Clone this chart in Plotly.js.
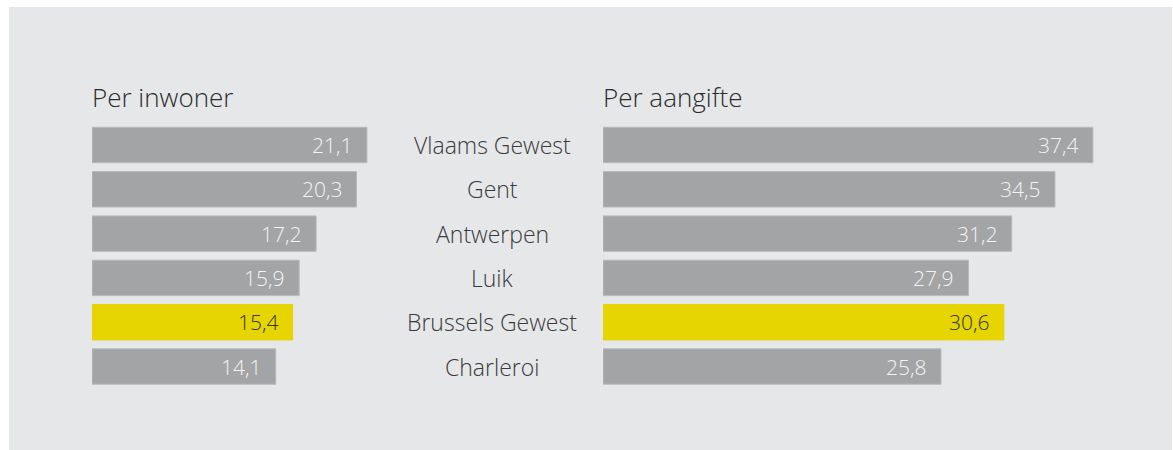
<!DOCTYPE html>
<html lang="nl">
<head>
    <meta charset="UTF-8">
    <title>Per inwoner / Per aangifte</title>
    <script src="https://cdn.plot.ly/plotly-3.0.1.min.js"></script>
    <style>
        body { margin: 0; padding: 0; background: #ffffff; }
        #chart { width: 1173px; height: 450px; }
    </style>
</head>
<body>
    <div id="chart"></div>
    <script>
        // Data
        const regions = ['Vlaams Gewest', 'Gent', 'Antwerpen', 'Luik', 'Brussels Gewest', 'Charleroi'];
        const perInwoner = [21.1, 20.3, 17.2, 15.9, 15.4, 14.1];
        const perAangifte = [37.4, 34.5, 31.2, 27.9, 30.6, 25.8];
        const highlight = 'Brussels Gewest';

        const W = 1173, H = 450;
        const grey = '#a3a4a6', yellow = '#e6d500';
        const fontFam = '"Open Sans", "Noto Sans", sans-serif';

        const barColors = regions.map(r => r === highlight ? yellow : grey);
        const lineColors = regions.map(r => r === highlight ? yellow : '#b9babc');

        function barTrace(vals, xa) {
            return {
                type: 'bar',
                orientation: 'h',
                x: vals,
                y: regions,
                xaxis: xa,
                yaxis: 'y',
                width: 0.8,
                marker: { color: barColors, line: { color: lineColors, width: 1 } },
                hoverinfo: 'skip'
            };
        }

        const fmt = v => v.toFixed(1).replace('.', ',');

        const annotations = [];
        // panel titles
        annotations.push({ text: 'Per inwoner', xref: 'paper', yref: 'paper', x: 90 / W, y: 1 - 97 / H,
            xanchor: 'left', yanchor: 'middle', showarrow: false,
            font: { size: 26, color: '#2b2b2b', family: fontFam, weight: 300 } });
        annotations.push({ text: 'Per aangifte', xref: 'paper', yref: 'paper', x: 601 / W, y: 1 - 97 / H,
            xanchor: 'left', yanchor: 'middle', showarrow: false,
            font: { size: 26, color: '#2b2b2b', family: fontFam, weight: 300 } });

        regions.forEach((r, i) => {
            // centre labels
            annotations.push({ text: r, xref: 'paper', yref: 'y', x: 492 / W, y: r,
                xanchor: 'center', yanchor: 'middle', showarrow: false,
                font: { size: 23, color: '#3a3a3a', family: fontFam, weight: 300 } });
            const tc = r === highlight ? '#333333' : '#f4f4f4';
            annotations.push({ text: fmt(perInwoner[i]), xref: 'x', yref: 'y', x: perInwoner[i], y: r,
                xanchor: 'right', yanchor: 'middle', xshift: -13, showarrow: false,
                font: { size: 21, color: tc, family: fontFam, weight: 300 } });
            annotations.push({ text: fmt(perAangifte[i]), xref: 'x2', yref: 'y', x: perAangifte[i], y: r,
                xanchor: 'right', yanchor: 'middle', xshift: -13, showarrow: false,
                font: { size: 21, color: tc, family: fontFam, weight: 300 } });
        });

        // bars: row centres at 145..366 px, spacing ~44.3 px
        const yTop = 145 - 22.15, yBot = 366.5 + 22.15;
        const leftPx = [92, 392], rightPx = [603, 1103];

        const layout = {
            width: W,
            height: H,
            margin: { l: 0, r: 0, t: 0, b: 0 },
            paper_bgcolor: '#ffffff',
            plot_bgcolor: 'rgba(0,0,0,0)',
            showlegend: false,
            bargap: 0.2,
            xaxis: { domain: [leftPx[0] / W, leftPx[1] / W], range: [0, (leftPx[1] - leftPx[0]) / 13.03],
                visible: false, fixedrange: true },
            xaxis2: { domain: [rightPx[0] / W, rightPx[1] / W], range: [0, (rightPx[1] - rightPx[0]) / 13.1],
                visible: false, fixedrange: true },
            yaxis: { domain: [1 - yBot / H, 1 - yTop / H], autorange: 'reversed', type: 'category',
                visible: false, fixedrange: true },
            shapes: [{
                type: 'rect', xref: 'paper', yref: 'paper', layer: 'below',
                x0: 9 / W, x1: 1172 / W, y0: 0, y1: 1 - 7 / H,
                fillcolor: '#e6e7e9', line: { width: 0 }
            }],
            annotations: annotations
        };

        Plotly.newPlot('chart', [barTrace(perInwoner, 'x'), barTrace(perAangifte, 'x2')], layout,
            { displayModeBar: false, staticPlot: true });
    </script>
</body>
</html>
